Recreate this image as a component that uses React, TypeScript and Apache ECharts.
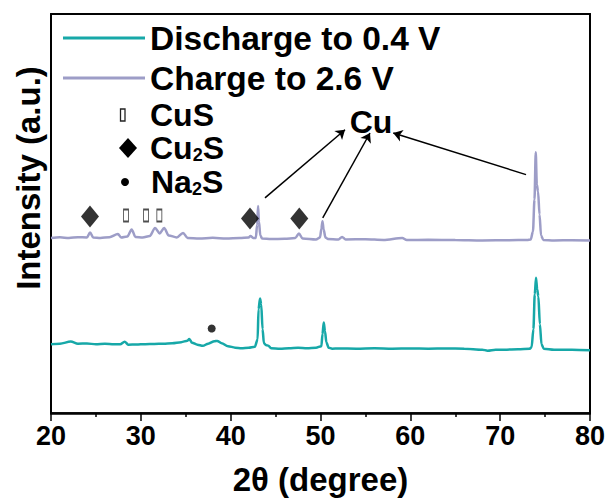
import React, { useEffect, useRef } from "react";
import * as echarts from "echarts";

const FONT = "'Liberation Sans', Arial, Helvetica, sans-serif";

const seriesNames = ["Discharge to 0.4 V", "Charge to 2.6 V"];
const seriesColors = ["#17A8A8", "#9D9DC7"];

const xTicks = [20, 30, 40, 50, 60, 70, 80];

// Charge to 2.6 V
const chargeTheta = [20.0, 21.0, 22.0, 23.0, 24.0, 24.35, 24.7, 25.5, 26.5, 27.45, 27.8, 28.5, 28.98, 29.4, 30.2, 31.0, 31.58, 32.1, 32.6, 33.1, 34.0, 34.7, 35.2, 36.5, 38.0, 39.5, 41.0, 42.0, 42.2, 42.5, 42.8, 42.95, 43.05, 43.15, 43.3, 43.5, 44.5, 46.0, 47.2, 47.6, 48.0, 49.5, 49.95, 50.1, 50.22, 50.35, 50.55, 50.8, 52.0, 52.4, 52.8, 55.0, 57.0, 59.1, 59.6, 62.0, 65.0, 68.0, 71.0, 73.0, 73.4, 73.65, 73.82, 73.96, 74.08, 74.22, 74.38, 74.55, 74.8, 76.0, 78.0, 80.0];
const chargeIntensity = [175.5, 176.2, 175.4, 176.3, 176.0, 181.0, 176.0, 175.5, 176.2, 179.5, 176.0, 177.0, 184.0, 176.5, 176.0, 177.5, 185.5, 180.0, 185.5, 178.0, 176.0, 180.5, 175.5, 175.0, 175.6, 175.0, 175.5, 176.0, 177.5, 175.5, 175.5, 189.0, 207.5, 192.0, 178.0, 175.0, 174.5, 174.6, 175.5, 180.0, 175.0, 174.0, 176.0, 185.0, 192.3, 184.0, 176.0, 174.5, 174.0, 176.5, 174.0, 174.2, 173.5, 175.5, 173.5, 173.6, 173.5, 173.0, 173.2, 173.5, 174.0, 182.0, 214.0, 261.3, 229.0, 222.0, 199.0, 178.0, 173.5, 173.0, 173.2, 173.0];

// Discharge to 0.4 V
const dischargeTheta = [20.0, 21.0, 22.2, 23.0, 24.0, 25.0, 26.0, 27.0, 27.7, 28.2, 28.6, 29.5, 30.5, 31.5, 32.5, 33.5, 34.5, 35.2, 35.4, 35.7, 36.3, 36.9, 37.5, 38.2, 38.5, 39.0, 39.7, 40.5, 41.2, 42.0, 42.7, 43.0, 43.1, 43.27, 43.4, 43.55, 43.7, 43.95, 44.2, 44.5, 45.5, 46.5, 47.5, 48.5, 49.5, 50.1, 50.22, 50.36, 50.5, 50.65, 50.9, 51.3, 52.0, 54.0, 56.0, 58.0, 60.0, 62.0, 64.0, 66.0, 68.0, 68.6, 69.5, 70.5, 72.0, 73.3, 73.5, 73.7, 73.85, 73.99, 74.12, 74.25, 74.42, 74.6, 74.85, 76.0, 78.0, 80.0];
const dischargeIntensity = [69.0, 69.5, 71.7, 69.5, 69.6, 69.0, 69.5, 69.0, 69.0, 71.5, 68.5, 68.6, 69.0, 69.2, 69.5, 70.0, 71.0, 72.5, 74.2, 70.5, 68.5, 67.3, 69.5, 72.0, 72.3, 70.0, 67.0, 65.5, 65.0, 65.5, 66.5, 74.0, 104.0, 114.7, 109.0, 84.0, 70.0, 68.0, 67.5, 65.0, 64.5, 65.0, 65.5, 65.0, 65.5, 67.0, 79.0, 90.7, 82.0, 71.0, 65.5, 64.5, 64.6, 64.5, 65.0, 64.5, 64.6, 64.5, 64.6, 64.5, 63.5, 62.5, 63.5, 63.5, 64.0, 64.5, 66.0, 84.0, 119.0, 135.7, 124.0, 117.0, 89.0, 69.0, 64.5, 63.5, 63.5, 63.0];

// Phase markers
const cusTheta = [28.35, 30.58, 32.06];
const cusY = [198, 198, 198];
const cu2sTheta = [24.34, 42.15, 47.64];
const cu2sY = [197, 195, 195];
const na2sTheta = [37.89];
const na2sY = [84.7];

// Cu arrows: [startTheta, startY, endTheta, endY]
const cuArrows = [
  [43.82, 215.7, 52.73, 284],
  [50.25, 195.7, 55.51, 280.7],
  [72.88, 239, 58.1, 280.7],
];

function pairs(xs: number[], ys: number[]) {
  return xs.map((x, i) => [x, ys[i]]);
}

const GRID = { left: 51, right: 21, top: 14, bottom: 87 };
const W = 611;
const H = 501;

export default function App() {
  const ref = useRef<HTMLDivElement>(null);
  useEffect(() => {
    document.body.style.margin = "0";
    if (!ref.current) return;
    const chart = echarts.init(ref.current, null, { renderer: "svg" });
    const labelFont = { fontFamily: FONT, fontWeight: "bold" as const, color: "#000" };
    const frame = () => ({ show: true, onZero: false, lineStyle: { color: "#000", width: 1.6 } });
    const sub = (a: string, b: string, c: string) => `{m|${a}}{s|${b}}{m|${c}}`;
    const richStyle = {
      m: { fontFamily: FONT, fontWeight: "bold", fontSize: 32, fill: "#000", verticalAlign: "bottom" },
      s: { fontFamily: FONT, fontWeight: "bold", fontSize: 18, fill: "#000", verticalAlign: "bottom" },
    };
    const hidden = {
      axisTick: { show: false },
      axisLabel: { show: false },
      splitLine: { show: false },
    };
    const option: any = {
      animation: false,
      grid: { ...GRID, show: true, borderColor: "#000", borderWidth: 1.6 },
      legend: {
        data: seriesNames.map((n) => ({ name: n, icon: "rect" })),
        orient: "vertical",
        left: 58,
        top: 16,
        padding: 5,
        itemWidth: 82,
        itemHeight: 3,
        itemGap: 6,
        textStyle: { ...labelFont, fontSize: 33.5 },
      },
      xAxis: [
        {
          type: "value",
          min: xTicks[0],
          max: xTicks[xTicks.length - 1],
          interval: 10,
          name: "2θ (degree)",
          nameLocation: "middle",
          nameGap: 50,
          nameTextStyle: { ...labelFont, fontSize: 33 },
          axisLine: frame(),
          axisTick: { show: true, length: 8, lineStyle: { color: "#000", width: 1.5 } },
          minorTick: { show: true, splitNumber: 2, length: 4, lineStyle: { color: "#000", width: 1.5 } },
          axisLabel: { ...labelFont, fontSize: 27, margin: 9 },
          splitLine: { show: false },
        },
        {
          type: "value",
          position: "top",
          min: xTicks[0],
          max: xTicks[xTicks.length - 1],
          interval: 10,
          axisLine: frame(),
          ...hidden,
        },
      ],
      yAxis: [
        { type: "value", min: 0, max: 400, axisLine: frame(), ...hidden },
        { type: "value", position: "right", min: 0, max: 400, axisLine: frame(), ...hidden },
      ],
      series: [
        {
          name: seriesNames[0],
          type: "line",
          data: pairs(dischargeTheta, dischargeIntensity),
          symbol: "none",
          smooth: 0.3,
          smoothMonotone: "x",
          lineStyle: { color: seriesColors[0], width: 2.5 },
          itemStyle: { color: seriesColors[0] },
        },
        {
          name: seriesNames[1],
          type: "line",
          data: pairs(chargeTheta, chargeIntensity),
          symbol: "none",
          smooth: 0.3,
          smoothMonotone: "x",
          lineStyle: { color: seriesColors[1], width: 2.5 },
          itemStyle: { color: seriesColors[1] },
        },
        {
          name: "CuS",
          type: "scatter",
          data: pairs(cusTheta, cusY),
          symbol: "rect",
          symbolSize: [5, 12],
          itemStyle: { color: "#fff", borderColor: "#222", borderWidth: 1.3 },
          z: 5,
        },
        {
          name: "Cu2S",
          type: "scatter",
          data: pairs(cu2sTheta, cu2sY),
          symbol: "diamond",
          symbolSize: [18, 22],
          itemStyle: { color: "#000" },
          z: 5,
        },
        {
          name: "Na2S",
          type: "scatter",
          data: pairs(na2sTheta, na2sY),
          symbol: "circle",
          symbolSize: 8,
          itemStyle: { color: "#000" },
          z: 5,
          markLine: {
            silent: true,
            symbol: ["none", "arrow"],
            symbolSize: 9,
            label: { show: false },
            lineStyle: { color: "#000", width: 1.5, type: "solid" },
            data: cuArrows.map((a) => [{ coord: [a[0], a[1]] }, { coord: [a[2], a[3]] }]),
          },
        },
      ],
      graphic: [
        {
          type: "rect",
          shape: {
            x: GRID.left,
            y: GRID.top,
            width: W - GRID.left - GRID.right,
            height: H - GRID.top - GRID.bottom,
          },
          style: { fill: "none", stroke: "#000", lineWidth: 1.6 },
        },
        {
          type: "text",
          x: 28,
          y: 178,
          rotation: Math.PI / 2,
          style: {
            text: "Intensity (a.u.)",
            fontFamily: FONT,
            fontWeight: "bold",
            fontSize: 33,
            fill: "#000",
            align: "center",
            verticalAlign: "middle",
          },
        },
        {
          type: "text",
          x: 371,
          y: 122,
          style: {
            text: "Cu",
            fontFamily: FONT,
            fontWeight: "bold",
            fontSize: 32,
            fill: "#000",
            align: "center",
            verticalAlign: "middle",
          },
        },
        {
          type: "rect",
          shape: { x: 120.5, y: 109, width: 4.5, height: 12 },
          style: { fill: "#fff", stroke: "#222", lineWidth: 1.3 },
        },
        {
          type: "polygon",
          shape: { points: [[128, 138], [137, 148], [128, 158], [119, 148]] },
          style: { fill: "#000" },
        },
        {
          type: "circle",
          shape: { cx: 125, cy: 182, r: 4 },
          style: { fill: "#000" },
        },
        {
          type: "text",
          x: 150,
          y: 115,
          style: {
            text: "CuS",
            fontFamily: FONT,
            fontWeight: "bold",
            fontSize: 32,
            fill: "#000",
            verticalAlign: "middle",
          },
        },
        {
          type: "text",
          x: 150,
          y: 148,
          style: { text: sub("Cu", "2", "S"), verticalAlign: "middle", rich: richStyle },
        },
        {
          type: "text",
          x: 151,
          y: 182,
          style: { text: sub("Na", "2", "S"), verticalAlign: "middle", rich: richStyle },
        },
      ],
    };
    chart.setOption(option);
    return () => chart.dispose();
  }, []);
  return <div ref={ref} style={{ width: W, height: H }} />;
}
